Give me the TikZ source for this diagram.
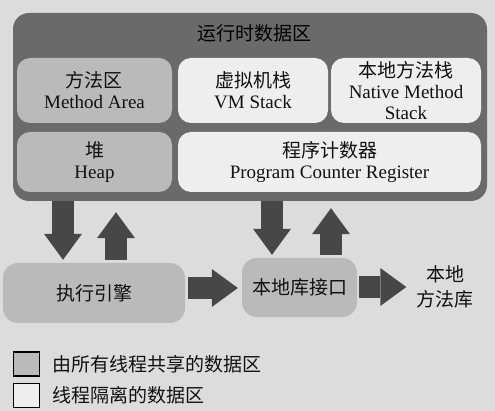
\documentclass[tikz,border=0pt]{standalone}
\usepackage{fontspec}
\setmainfont{Liberation Serif}
\newfontfamily\cjk{Noto Sans CJK SC}
\usetikzlibrary{arrows.meta}
\definecolor{paper}{HTML}{DCDCDC}
\definecolor{runtimegray}{HTML}{6A6A6A}
\definecolor{sharedgray}{HTML}{BABABA}
\definecolor{privwhite}{HTML}{EEEEEE}
\definecolor{arrowgray}{HTML}{474747}
\definecolor{ink}{HTML}{111111}
\begin{document}
\begin{tikzpicture}[x=1pt,y=-1pt,
  every node/.style={text=ink, font=\fontsize{19}{21}\selectfont},
  area/.style={rounded corners=13pt, inner sep=0pt, align=center},
  shared/.style={area, fill=sharedgray},
  private/.style={area, fill=privwhite},
  blockarrow/.style={draw=arrowgray, line width=22pt,
    -{Triangle[width=38pt,length=26pt,line width=0pt]}},
  legendbox/.style={draw=black, line width=1.2pt, minimum width=26pt,
    minimum height=24pt, inner sep=0pt},
]
\useasboundingbox (0,0) rectangle (495,411);
\fill[paper] (0,0) rectangle (495,411);

% runtime data area
\node[area, fill=runtimegray, rounded corners=16pt,
      minimum width=474pt, minimum height=188pt] (rt) at (250,107) {};
\node[text=black] (rttitle) at (254,33) {\cjk 运行时数据区};

\node[shared, minimum width=155pt, minimum height=65pt] (ma) at (94.5,90.5)
  {{\cjk 方法区}\\Method Area};
\node[private, minimum width=150pt, minimum height=65pt] (vm) at (253,90.5)
  {{\cjk 虚拟机栈}\\VM Stack};
\node[private, minimum width=150pt, minimum height=65pt] (nm) at (406,90.5)
  {{\cjk 本地方法栈}\\Native Method\\Stack};
\node[shared, minimum width=155pt, minimum height=60pt] (heap) at (94.5,162)
  {{\cjk 堆}\\Heap};
\node[private, minimum width=303pt, minimum height=60pt] (pc) at (329.5,162)
  {{\cjk 程序计数器}\\Program Counter Register};

% execution engine and native interface
\node[shared, rounded corners=15pt, minimum width=182pt, minimum height=60pt]
  (exec) at (94,293) {\cjk 执行引擎};
\node[shared, rounded corners=15pt, minimum width=115pt, minimum height=59pt]
  (nli) at (299.5,287.5) {\cjk 本地库接口};
\node[align=center, inner sep=0pt, font=\fontsize{19}{25}\selectfont]
  (lib) at (445,287) {\cjk 本地\\\cjk 方法库};

% data flow
\draw[blockarrow, shorten >=3pt] (63,0 |- rt.south) -- (63,0 |- exec.north);
\draw[blockarrow, shorten <=3pt, shorten >=11pt] (116,0 |- exec.north) -- (116,0 |- rt.south);
\draw[blockarrow, shorten >=3pt] (272,0 |- rt.south) -- (272,0 |- nli.north);
\draw[blockarrow, shorten <=3pt, shorten >=7pt] (331,0 |- nli.north) -- (331,0 |- rt.south);
\draw[blockarrow, shorten <=3pt, shorten >=4pt] (exec.east |- 0,288) -- (nli.west |- 0,288);
\draw[blockarrow, shorten <=2pt, shorten >=10pt] (nli.east |- 0,287) -- (lib.west |- 0,287);

% legend
\node[legendbox, fill=sharedgray] (lg1) at (26.5,364) {};
\node[anchor=west, inner sep=0pt] (lt1) at (52,364) {\cjk 由所有线程共享的数据区};
\node[legendbox, fill=privwhite] (lg2) at (26.5,395.5) {};
\node[anchor=west, inner sep=0pt] (lt2) at (52,395.5) {\cjk 线程隔离的数据区};
\end{tikzpicture}
\end{document}
